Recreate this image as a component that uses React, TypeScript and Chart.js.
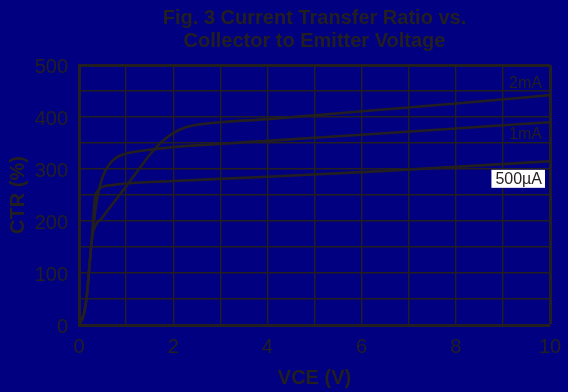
import { useEffect, useRef } from "react";
import { Chart, registerables } from "chart.js";

Chart.register(...registerables);

const NAVY = "#000080";
const INK = "#231F20";
const FONT = "'Liberation Sans', Arial, Helvetica, sans-serif";

const titleLines = ["Fig. 3 Current Transfer Ratio vs.", "Collector to Emitter Voltage"];
const xAxisTitle = "VCE (V)";
const yAxisTitle = "CTR (%)";
const xLabelTicks = [0, 2, 4, 6, 8, 10];
const yLabelTicks = [0, 100, 200, 300, 400, 500];

const seriesNames = ["500µA", "1mA", "2mA"];

const vce500 = [0, 0.1, 0.17, 0.22, 0.27, 0.31, 0.34, 0.4, 0.48, 0.7, 1, 2, 4, 6, 8, 10];
const ctr500 = [0, 20, 60, 112, 163, 215, 246, 258, 265, 269, 272, 277, 285, 294, 304, 315];

const vce1m = [0, 0.1, 0.17, 0.22, 0.27, 0.32, 0.38, 0.45, 0.55, 0.7, 0.85, 1, 1.5, 2, 4, 6, 8, 10];
const ctr1m = [0, 20, 60, 112, 163, 200, 240, 270, 295, 315, 325, 330, 337, 342, 354, 366, 378, 390];

const vce2m = [0, 0.1, 0.17, 0.22, 0.27, 0.3, 0.5, 0.75, 1, 1.25, 1.5, 1.75, 2, 2.25, 2.5, 3, 4, 6, 8, 10];
const ctr2m = [0, 20, 60, 112, 160, 178, 207, 237, 267, 297, 327, 352, 369, 380, 385, 390, 396, 411, 426, 442];

// label anchor values (in data units) for the curve names
const labelY = [271.5, 358, 456];

const toPts = (xs: number[], ys: number[]) => xs.map((x, i) => ({ x, y: ys[i] }));

const overlayPlugin = {
  id: "overlay",
  afterDraw(chart: any) {
    const { ctx, chartArea, scales } = chart;
    const cx = (chartArea.left + chartArea.right) / 2;
    ctx.save();
    // title
    ctx.fillStyle = INK;
    ctx.font = `bold 20px ${FONT}`;
    ctx.textAlign = "center";
    ctx.textBaseline = "alphabetic";
    ctx.fillText(titleLines[0], cx, 24);
    ctx.fillText(titleLines[1], cx, 47);
    // curve labels
    const xr = scales.x.getPixelForValue(10) - 8;
    ctx.font = `16px ${FONT}`;
    ctx.textAlign = "right";
    const y2 = scales.y.getPixelForValue(labelY[2]);
    const y1 = scales.y.getPixelForValue(labelY[1]);
    const y0 = scales.y.getPixelForValue(labelY[0]);
    ctx.fillText(seriesNames[2], xr, y2);
    ctx.fillText(seriesNames[1], xr, y1);
    const w = ctx.measureText(seriesNames[0]).width;
    ctx.fillStyle = "#ffffff";
    ctx.fillRect(xr - w - 4, y0 - 14, w + 7, 18);
    ctx.fillStyle = INK;
    ctx.fillText(seriesNames[0], xr, y0);
    ctx.restore();
  },
};

export default function App() {
  const ref = useRef<HTMLCanvasElement>(null);
  useEffect(() => {
    document.body.style.margin = "0";
    document.body.style.background = NAVY;
    const mk = (label: string, xs: number[], ys: number[]) => ({
      label,
      data: toPts(xs, ys),
      showLine: true,
      borderColor: INK,
      backgroundColor: INK,
      borderWidth: 2.6,
      pointRadius: 0,
      cubicInterpolationMode: "monotone" as const,
      fill: false,
    });
    const chart = new Chart(ref.current!, {
      type: "scatter",
      data: {
        datasets: [
          mk(seriesNames[0], vce500, ctr500),
          mk(seriesNames[1], vce1m, ctr1m),
          mk(seriesNames[2], vce2m, ctr2m),
        ],
      },
      options: {
        animation: false,
        responsive: false,
        devicePixelRatio: 1,
        layout: { padding: { top: 65, right: 18, left: 0, bottom: 0 } },
        plugins: { legend: { display: false }, title: { display: false }, tooltip: { enabled: false } },
        scales: {
          x: {
            type: "linear",
            min: 0,
            max: 10,
            afterFit: (s: any) => { s.height = 67; s.paddingRight = 0; s.paddingLeft = 0; },
            ticks: {
              stepSize: 1,
              autoSkip: false,
              maxRotation: 0,
              color: INK,
              padding: 10,
              font: { family: FONT, size: 20 },
              callback: (v: any) => (xLabelTicks.includes(Number(v)) ? String(v) : ""),
            },
            grid: {
              color: INK,
              drawTicks: false,
              lineWidth: (c: any) => (c.tick && c.tick.value === 10 ? 3 : 1.4),
            },
            border: { display: true, color: INK, width: 3 },
            title: {
              display: true,
              text: xAxisTitle,
              color: INK,
              font: { family: FONT, size: 20, weight: "bold" },
              padding: { top: 0, bottom: 2 },
            },
          },
          y: {
            type: "linear",
            min: 0,
            max: 500,
            afterFit: (s: any) => { s.width = 79; s.paddingTop = 0; s.paddingBottom = 0; },
            ticks: {
              stepSize: 50,
              autoSkip: false,
              color: INK,
              padding: 11,
              labelOffset: 2,
              font: { family: FONT, size: 20 },
              callback: (v: any) => (yLabelTicks.includes(Number(v)) ? String(v) : ""),
            },
            grid: {
              color: INK,
              drawTicks: false,
              lineWidth: (c: any) => (c.tick && c.tick.value === 500 ? 3 : 1.4),
            },
            border: { display: true, color: INK, width: 3 },
            title: {
              display: true,
              text: yAxisTitle,
              color: INK,
              font: { family: FONT, size: 20, weight: "bold" },
              padding: { top: 6, bottom: 0 },
            },
          },
        },
      },
      plugins: [overlayPlugin],
    });
    return () => chart.destroy();
  }, []);
  return (
    <div style={{ width: 568, height: 392, background: NAVY }}>
      <canvas ref={ref} width={568} height={392} style={{ display: "block" }} />
    </div>
  );
}
